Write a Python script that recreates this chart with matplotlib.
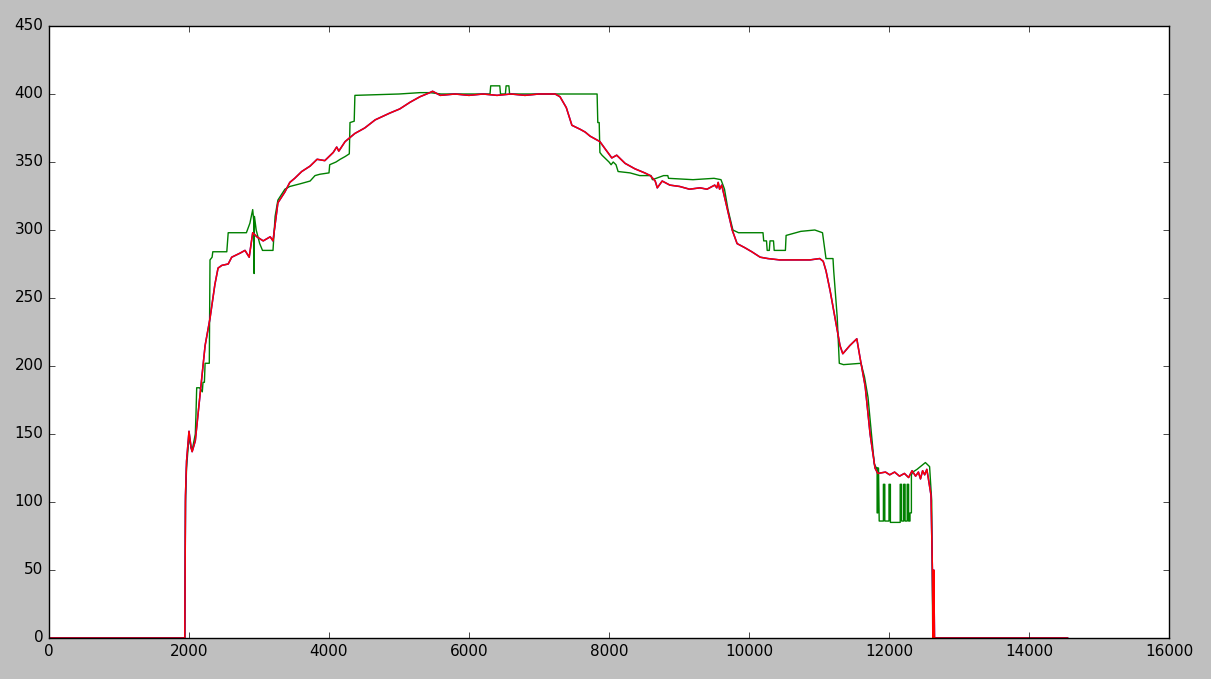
import matplotlib
matplotlib.use("Agg")
import matplotlib.pyplot as plt

plt.style.use("classic")

red_x = [0, 1940, 1950, 1965, 2000, 2030, 2045, 2090, 2160, 2230, 2300, 2370, 2415, 2470, 2560,
         2610, 2730, 2800, 2860, 2910, 2970, 3060, 3160, 3200, 3270, 3370, 3440, 3510, 3610, 3730,
         3830, 3940, 4060, 4110, 4140, 4230, 4370, 4510, 4660, 4870, 5010, 5160, 5300, 5440, 5480,
         5590, 5800, 6000, 6200, 6400, 6600, 6800, 7000, 7230, 7300, 7390, 7470, 7590, 7660, 7730,
         7870, 7940, 8040, 8110, 8230, 8370, 8510, 8590, 8660, 8690, 8760, 8870, 9010, 9150, 9300,
         9400, 9510, 9540, 9560, 9580, 9610, 9670, 9760, 9830, 9940, 10040, 10160, 10270, 10440,
         10650, 10870, 11010, 11060, 11100, 11160, 11230, 11300, 11340, 11440, 11540, 11590, 11660,
         11730, 11800, 11840, 11950, 12010, 12080, 12150, 12220, 12280, 12330, 12380, 12420, 12450,
         12480, 12510, 12540, 12560, 12600, 12620, 12630, 12640, 12650, 12660, 14550]
red_y = [0, 0, 105, 130, 152, 140, 137, 145, 180, 215, 235, 260, 272, 274, 275,
         280, 283, 285, 280, 298, 295, 292, 295, 292, 320, 328, 335, 338, 343, 347,
         352, 351, 357, 361, 358, 365, 371, 375, 381, 386, 389, 394, 398, 401, 402,
         399, 400, 399, 400, 399, 400, 399, 400, 400, 398, 390, 377, 374, 372, 369,
         365, 360, 353, 355, 349, 345, 342, 340, 336, 331, 336, 333, 332, 330, 331,
         330, 333, 331, 335, 330, 333, 320, 300, 290, 287, 284, 280, 279, 278,
         278, 278, 279, 277, 270, 255, 235, 215, 209, 215, 220, 205, 185,
         150, 125, 121, 122, 120, 122, 119, 121, 118, 123, 119, 122, 117,
         123, 120, 124, 118, 105, 50, 0, 50, 0, 0, 0]

green_x = [0, 1940, 1950, 1965, 2000, 2030, 2045, 2090, 2100, 2110, 2150, 2190, 2200, 2220, 2230,
           2290, 2300, 2330, 2340, 2540, 2560, 2820, 2870, 2910, 2928, 2930, 2935, 2960, 3010, 3050,
           3200, 3230, 3270, 3370, 3440, 3590, 3730, 3800, 3870, 4000, 4010, 4100, 4160, 4230, 4290,
           4300, 4360, 4370, 5000, 5300, 5443, 5600, 6300, 6310, 6440, 6450, 6520, 6530, 6570, 6580,
           7830, 7840, 7860, 7870, 7900, 8000, 8030, 8060, 8100, 8130, 8300, 8440, 8600, 8620, 8780,
           8840, 8850, 9200, 9500, 9600, 9650, 9700, 9770, 9850, 10200, 10210, 10250, 10260, 10290,
           10300, 10350, 10360, 10520, 10530, 10740, 10940, 11050, 11100, 11200, 11210, 11260, 11290,
           11350, 11600, 11650, 11700, 11750, 11790, 11820, 11830, 11830, 11840, 11840, 11850, 11860,
           11920, 11920, 11940, 11940, 12000, 12000, 12020, 12020, 12160, 12160, 12180, 12180, 12210,
           12210, 12230, 12230, 12260, 12260, 12280, 12280, 12300, 12300, 12320, 12320,
           12340, 12400, 12520, 12580, 12610, 12625, 14550]
green_y = [0, 0, 100, 125, 148, 140, 138, 150, 165, 184, 184, 181, 188, 188, 202,
           202, 278, 280, 284, 284, 298, 298, 305, 315, 305, 268, 310, 300, 290, 285,
           285, 310, 322, 330, 332, 334, 336, 340, 341, 342, 348, 350, 352, 354, 356,
           379, 380, 399, 400, 401, 401, 400, 400, 406, 406, 400, 400, 406, 406, 400,
           400, 379, 379, 357, 355, 350, 348, 350, 348, 343, 342, 340, 340, 337, 340,
           340, 338, 337, 338, 337, 330, 315, 300, 298, 298, 292, 292, 285, 285,
           292, 292, 285, 285, 296, 299, 300, 298, 279, 279, 270, 236, 202,
           201, 202, 192, 177, 150, 128, 125, 125, 92, 92, 125, 125, 86,
           86, 113, 113, 86, 86, 113, 113, 85, 85, 113, 113, 86, 86,
           113, 113, 86, 86, 113, 113, 86, 86, 92, 92, 120,
           122, 124, 129, 126, 101, 0, 0]

fig = plt.figure(figsize=(12.11, 6.79), dpi=100, facecolor="#bfbfbf")
ax = fig.add_axes([49 / 1211, 41 / 679, 1120 / 1211, 612 / 679])
ax.plot(green_x, green_y, color="g", lw=1.0)
ax.plot(red_x, red_y, color="b", lw=1.1)
ax.plot(red_x, red_y, color="r", lw=1.1)
ax.set_xlim(0, 16000)
ax.set_ylim(0, 450)
ax.tick_params(labelsize=11)
fig.savefig("out.png", dpi=100, facecolor=fig.get_facecolor())
